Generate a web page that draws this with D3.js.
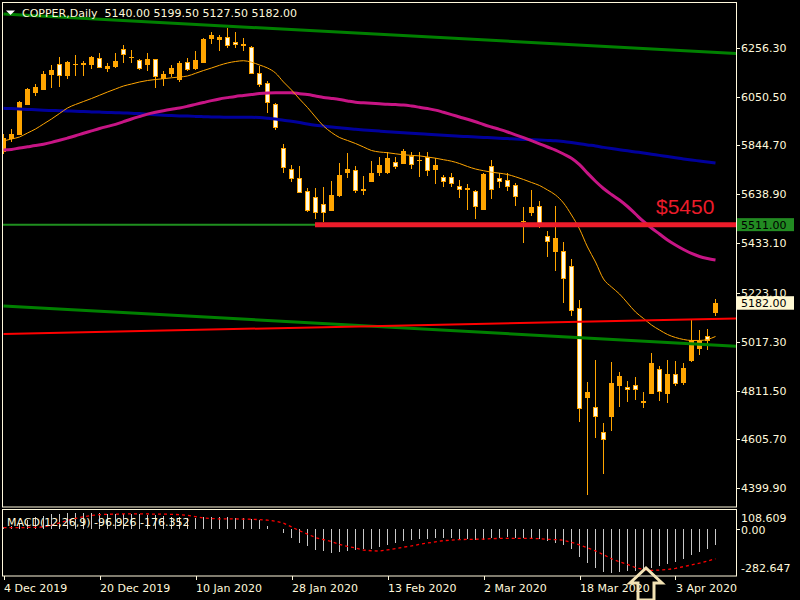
<!DOCTYPE html>
<html><head><meta charset="utf-8">
<script src="https://cdn.jsdelivr.net/npm/d3@7"></script>
<style>
html,body{margin:0;padding:0;background:#000;}
svg{display:block;}
text{font-family:"DejaVu Sans",sans-serif;}
</style>
</head><body>
<svg id="c" width="800" height="600"></svg>
<script>
// ---------------- DATA ----------------
const symbolTitle = "COPPER,Daily";
const titleValues = "5140.00 5199.50 5127.50 5182.00";
const macdTitle = "MACD(12,26,9) -96.926 -176.352";

const opens = [5818.5,5873,5889,6016,6067,6078,6142,6187,6138,6185,6183,6185,6212,6168,6175,6250,6216,6205,6185,6208,6124,6146,6121,6195,6168,6194,6292,6290,6302,6280,6274,6258,6149,6107,6020,5833,5744,5706,5652,5626,5597,5570,5632,5730,5740,5654,5692,5730,5730,5774,5768,5802,5783,5795,5743,5711,5711,5673,5664,5652,5574,5757,5706,5698,5677,5526,5561,5588,5462,5397,5400,5336,5160,4782,4741,4637,4702,4832,4826,4834,4768,4799,4903,4799,4882,4845,4937,4988,5042,5140];
const highs = [5893,5914,6030,6087,6104,6158,6184,6219,6199,6226,6201,6222,6236,6191,6236,6268,6247,6208,6236,6209,6160,6184,6201,6212,6243,6296,6322,6312,6340,6323,6296,6264,6180,6116,6025,5851,5762,5758,5664,5664,5668,5695,5771,5813,5758,5716,5779,5795,5816,5795,5830,5816,5816,5816,5792,5719,5729,5699,5681,5656,5727,5784,5727,5730,5685,5587,5657,5611,5484,5588,5438,5366,5194,4848,4941,4675,4932,4890,4852,4869,4806,4970,4914,4941,4937,4928,5111,5067,5071,5199.5];
const lows = [5809,5859,5887,6014,6053,6077,6088,6092,6125,6139,6139,6166,6170,6156,6173,6192,6191,6163,6160,6088,6095,6135,6113,6160,6163,6191,6271,6244,6257,6257,6244,6145,6092,5980,5910,5727,5692,5643,5564,5534,5522,5569,5629,5709,5646,5636,5691,5717,5726,5744,5767,5747,5713,5717,5684,5671,5670,5625,5573,5534,5573,5619,5667,5654,5590,5432,5549,5497,5376,5317,5182,5127,4681,4371,4613,4462,4643,4744,4765,4771,4738,4797,4769,4761,4832,4837,4932,4963,4984,5127.5];
const closes = [5875,5892,6028,6084,6090,6146,6163,6138,6197,6189,6191,6218,6173,6180,6201,6225,6212,6168,6208,6135,6146,6171,6194,6162,6205,6293,6312,6302,6265,6267,6263,6146,6100,6025,5920,5748,5702,5646,5567,5559,5559,5635,5720,5746,5654,5661,5729,5762,5792,5755,5821,5764,5781,5738,5762,5690,5681,5658,5656,5587,5725,5656,5692,5671,5629,5524,5585,5505,5437,5455,5283,5146,4736,4806,4699,4605,4844,4873,4813,4813,4758,4928,4805,4882,4841,4907,5024,5021,5022,5182];

const maFast = [5863.6,5872.0,5880.4,5897.3,5914.1,5935.2,5956.3,5979.4,6002.6,6017.4,6030.0,6042.6,6056.2,6070.0,6082.7,6095.3,6103.8,6112.2,6118.5,6122.7,6126.1,6129.9,6133.2,6137.5,6148.8,6160.6,6171.2,6182.6,6192.3,6198.6,6201.9,6195.6,6183.8,6171.2,6150.1,6112.2,6078.5,6040.5,6004.7,5964.7,5926.8,5899.4,5878.3,5865.7,5853.0,5838.3,5823.5,5817.2,5814.2,5809.6,5805.4,5802.9,5800.8,5796.1,5791.1,5784.7,5778.4,5768.7,5756.1,5745.5,5738.4,5732.1,5727.9,5722.4,5712.7,5701.3,5688.7,5676.0,5657.1,5636.0,5602.3,5551.7,5492.7,5416.9,5353.7,5282.0,5248.3,5218.8,5180.9,5143.0,5115.6,5088.1,5067.1,5048.1,5035.5,5027.1,5022.9,5022.9,5027.1,5039.7];
const maMid = [5825.6,5827.7,5834.0,5839.1,5844.2,5850.1,5857.7,5866.5,5875.8,5885.5,5896.0,5906.1,5916.2,5925.1,5933.5,5944.9,5956.3,5966.8,5976.9,5984.5,5991.2,5997.1,6002.6,6009.8,6017.8,6025.8,6033.8,6040.9,6046.4,6051.5,6055.3,6059.5,6063.7,6066.2,6067.1,6067.1,6066.7,6062.9,6059.1,6053.2,6047.3,6043.1,6038.4,6032.1,6026.6,6024.5,6022.4,6020.3,6018.2,6016.9,6015.3,6011.0,6005.6,6000.1,5993.8,5984.5,5974.8,5964.7,5955.0,5944.5,5933.1,5922.6,5912.4,5901.5,5889.7,5877.4,5864.8,5851.8,5838.3,5825.2,5808.8,5791.1,5764.0,5728.0,5694.0,5663.4,5638.1,5614.9,5587.5,5555.9,5524.3,5496.9,5471.6,5446.4,5425.3,5406.3,5389.5,5376.8,5368.4,5362.1];
const maSlow = [6001.4,6000.1,5998.4,5996.7,5995.0,5993.3,5992.1,5991.2,5990.0,5988.7,5987.4,5986.2,5985.3,5984.1,5982.8,5981.6,5980.3,5979.0,5976.5,5974.0,5971.9,5970.6,5969.3,5968.5,5967.2,5966.0,5965.1,5964.3,5963.9,5963.4,5963.4,5963.4,5962.2,5959.6,5956.3,5951.2,5947.0,5941.5,5935.2,5930.1,5926.4,5922.6,5919.2,5915.8,5912.9,5910.3,5907.8,5905.3,5902.8,5900.7,5898.5,5896.4,5893.9,5891.8,5889.7,5887.6,5885.5,5883.8,5882.1,5880.4,5878.7,5877.0,5875.3,5873.6,5871.9,5870.2,5869.0,5867.8,5866.1,5864.4,5861.0,5856.8,5852.2,5847.1,5842.5,5836.6,5831.5,5826.9,5822.3,5817.6,5813.0,5807.9,5802.9,5797.8,5792.8,5788.1,5783.5,5779.3,5775.1,5770.9];

const macdMain = [10,16,34,52,66,76,84,88,90,92,92,92,91,88,86,88,86,84,82,78,74,70,68,65,64,66,68,68,66,64,62,58,48,18,-2,-27,-56,-82,-101,-127,-131,-140,-136,-133,-127,-121,-117,-105,-94,-82,-72,-64,-60,-58.5,-56.5,-56.5,-56.5,-58.5,-62.4,-68,-64,-56.5,-52.7,-48.8,-52.7,-56.5,-56.5,-62.4,-74,-82,-95.6,-117,-164,-199,-228,-251,-257,-251,-249,-246,-242,-230,-218,-205,-193,-176,-156,-134,-117,-96.926];
const macdSignal = [6,6,6,7,8,10,20,34,48,60,70,77,82,84,85,86,86,86,86,85,85,84,82,78,70,63,59,57,57,57,56,55,53,50,44,32,10,-12,-32,-52,-64,-76,-92,-104,-113,-125,-129,-131,-124,-117,-108,-101,-92,-84,-77,-70,-67,-64,-63,-62,-61,-58,-57,-57,-57,-57,-57,-59,-62,-64,-68,-80,-95,-112,-130,-152,-176,-194,-209,-228,-238,-244,-242,-239,-232,-222,-212,-202,-189,-176.352];

const upperTrend = [[0, 6398.7], [92, 6231.4]];
const lowerTrend = [[0, 5168.2], [92, 4997.8]];
const redTrend = [[0, 5050.2], [92, 5116.2]];
const levelPrice = 5511;
const levelRedStart = 39;
const levelText = "$5450";

const priceTicks = [6256.30, 6050.50, 5844.70, 5638.90, 5433.10, 5223.10, 5017.30, 4811.50, 4605.70, 4399.90];
const macdTicks = [108.609, 0.00, -282.647];
const macdTickLabels = ["108.609", "0.00", "-282.647"];
const dateTickIdx = [0, 12, 24, 36, 48, 60, 72, 84];
const dateTickLabels = ["4 Dec 2019", "20 Dec 2019", "10 Jan 2020", "28 Jan 2020", "13 Feb 2020", "2 Mar 2020", "18 Mar 2020", "3 Apr 2020"];
const lastPrice = 5182.00;

// ---------------- DRAW ----------------
const FG = "#fff8dc";
const ORANGE = "#ffa500";
const CREAM = "#fffbe6";
const svg = d3.select("#c");
svg.append("rect").attr("width", 800).attr("height", 600).attr("fill", "#000");

const x = d3.scaleLinear().domain([0, 89]).range([3.5, 715.5]);
const y = d3.scaleLinear().domain([4399.9, 6256.3]).range([488.3, 47.8]);
const ym = d3.scaleLinear().domain([-282.647, 108.609]).range([577, 510.1]);

const defs = svg.append("defs");
defs.append("clipPath").attr("id", "clipMain").append("rect")
  .attr("x", 3).attr("y", 3).attr("width", 733).attr("height", 504);
defs.append("clipPath").attr("id", "clipMacd").append("rect")
  .attr("x", 3).attr("y", 510).attr("width", 733).attr("height", 66);

const gMain = svg.append("g").attr("clip-path", "url(#clipMain)");
const idx = d3.range(opens.length);

// candles
const cg = gMain.append("g");
idx.forEach(k => {
  const cx = x(k);
  cg.append("line").attr("x1", cx).attr("x2", cx)
    .attr("y1", y(highs[k])).attr("y2", y(lows[k]))
    .attr("stroke", ORANGE).attr("stroke-width", 1).attr("shape-rendering", "crispEdges");
  const top = y(Math.max(opens[k], closes[k]));
  const bot = y(Math.min(opens[k], closes[k]));
  const h = Math.max(1, bot - top);
  if (closes[k] > opens[k]) {
    cg.append("rect").attr("x", cx - 2.5).attr("y", top).attr("width", 5).attr("height", h)
      .attr("fill", ORANGE).attr("shape-rendering", "crispEdges");
  } else if (h < 2.5) {
    cg.append("rect").attr("x", cx - 2.5).attr("y", top).attr("width", 5).attr("height", Math.max(1, h))
      .attr("fill", ORANGE).attr("shape-rendering", "crispEdges");
  } else {
    cg.append("rect").attr("x", cx - 2).attr("y", top + 0.5).attr("width", 4).attr("height", h - 1)
      .attr("fill", CREAM).attr("stroke", ORANGE).attr("stroke-width", 1).attr("shape-rendering", "crispEdges");
  }
});

// moving averages
const maLine = arr => d3.line().curve(d3.curveMonotoneX).x((d, i) => x(i)).y(d => y(d))(arr);
gMain.append("path").attr("d", maLine(maSlow)).attr("fill", "none").attr("stroke", "#00009c").attr("stroke-width", 3);
gMain.append("path").attr("d", maLine(maMid)).attr("fill", "none").attr("stroke", "#c71585").attr("stroke-width", 3);
gMain.append("path").attr("d", maLine(maFast)).attr("fill", "none").attr("stroke", ORANGE).attr("stroke-width", 1);

// objects
const tl = d3.line().x(d => x(d[0])).y(d => y(d[1]));
gMain.append("line").attr("x1", 3).attr("x2", 736).attr("y1", y(levelPrice)).attr("y2", y(levelPrice))
  .attr("stroke", "#1f8f1f").attr("stroke-width", 2);
gMain.append("path").attr("d", tl(upperTrend)).attr("stroke", "#008000").attr("stroke-width", 3).attr("fill", "none");
gMain.append("path").attr("d", tl(lowerTrend)).attr("stroke", "#008000").attr("stroke-width", 3).attr("fill", "none");
gMain.append("path").attr("d", tl(redTrend)).attr("stroke", "#ff0000").attr("stroke-width", 2).attr("fill", "none");
gMain.append("line").attr("x1", x(levelRedStart) - 0.5).attr("x2", 736).attr("y1", y(levelPrice)).attr("y2", y(levelPrice))
  .attr("stroke", "#ec1c2a").attr("stroke-width", 5);
gMain.append("text").attr("x", 656).attr("y", 214).text(levelText)
  .attr("fill", "#ec1c2a").attr("font-size", 21).style("font-family", "'Liberation Sans',Arial,sans-serif");

// title
svg.append("path").attr("d", "M6,10.5 L15,10.5 L10.5,15 Z").attr("fill", "#ffffff");
svg.append("text").attr("x", 22).attr("y", 17).attr("fill", FG).attr("font-size", 11)
  .style("white-space", "pre").text(symbolTitle + "  " + titleValues);

// frames
svg.append("rect").attr("x", 2.5).attr("y", 2.5).attr("width", 734).attr("height", 504.5)
  .attr("fill", "none").attr("stroke", FG).attr("stroke-width", 1);
svg.append("rect").attr("x", 2.5).attr("y", 509.5).attr("width", 734).attr("height", 66.5)
  .attr("fill", "none").attr("stroke", FG).attr("stroke-width", 1);

// price axis
const pa = svg.append("g");
priceTicks.forEach(p => {
  const yy = Math.round(y(p)) + 0.5;
  pa.append("line").attr("x1", 737).attr("x2", 740).attr("y1", yy).attr("y2", yy).attr("stroke", FG);
  pa.append("text").attr("x", 741).attr("y", y(p) + 4).attr("fill", FG).attr("font-size", 11)
    .text(d3.format(".2f")(p));
});
// level label (green)
pa.append("rect").attr("x", 737).attr("y", y(levelPrice) - 6.5).attr("width", 57).attr("height", 13).attr("fill", "#228b22");
pa.append("text").attr("x", 741).attr("y", y(levelPrice) + 4).attr("fill", "#000").attr("font-size", 11).text(d3.format(".2f")(levelPrice));
// last price label
pa.append("rect").attr("x", 737).attr("y", y(lastPrice) - 6.5).attr("width", 57).attr("height", 13.5).attr("fill", "#fff8d2");
pa.append("text").attr("x", 741).attr("y", y(lastPrice) + 4).attr("fill", "#000").attr("font-size", 11).text(d3.format(".2f")(lastPrice));

// MACD
const gM = svg.append("g").attr("clip-path", "url(#clipMacd)");
idx.forEach(k => {
  gM.append("line").attr("x1", x(k)).attr("x2", x(k)).attr("y1", ym(0)).attr("y2", ym(macdMain[k]))
    .attr("stroke", "#c8c8c8").attr("stroke-width", 1).attr("shape-rendering", "crispEdges");
});
gM.append("path").attr("d", d3.line().x((d, i) => x(i)).y(d => ym(d))(macdSignal))
  .attr("fill", "none").attr("stroke", "#ff0000").attr("stroke-width", 1.3).attr("stroke-dasharray", "3,3");
svg.append("text").attr("x", 7).attr("y", 526).attr("fill", FG).attr("font-size", 11).text(macdTitle);
const macdLabelY = [522, 534, 572];
macdTicks.forEach((v, i) => {
  svg.append("text").attr("x", 741).attr("y", macdLabelY[i]).attr("fill", FG).attr("font-size", 11).text(macdTickLabels[i]);
});
svg.append("line").attr("x1", 737).attr("x2", 740).attr("y1", Math.round(ym(0)) + 0.5).attr("y2", Math.round(ym(0)) + 0.5).attr("stroke", FG);

// date axis
dateTickIdx.forEach((k, i) => {
  const xx = Math.round(x(k)) + 0.5;
  svg.append("line").attr("x1", xx).attr("x2", xx).attr("y1", 576).attr("y2", 580).attr("stroke", FG);
  svg.append("text").attr("x", x(k) + 0.5).attr("y", 592).attr("fill", FG).attr("font-size", 11).text(dateTickLabels[i]);
});

// up-arrow marker
svg.append("path").attr("d", "M646,568 L662,583 L654,583 L654,600 L638,600 L638,583 L630,583 Z")
  .attr("fill", "none").attr("stroke", "#f2e2b4").attr("stroke-width", 3).attr("stroke-linejoin", "miter");
</script>
</body></html>
